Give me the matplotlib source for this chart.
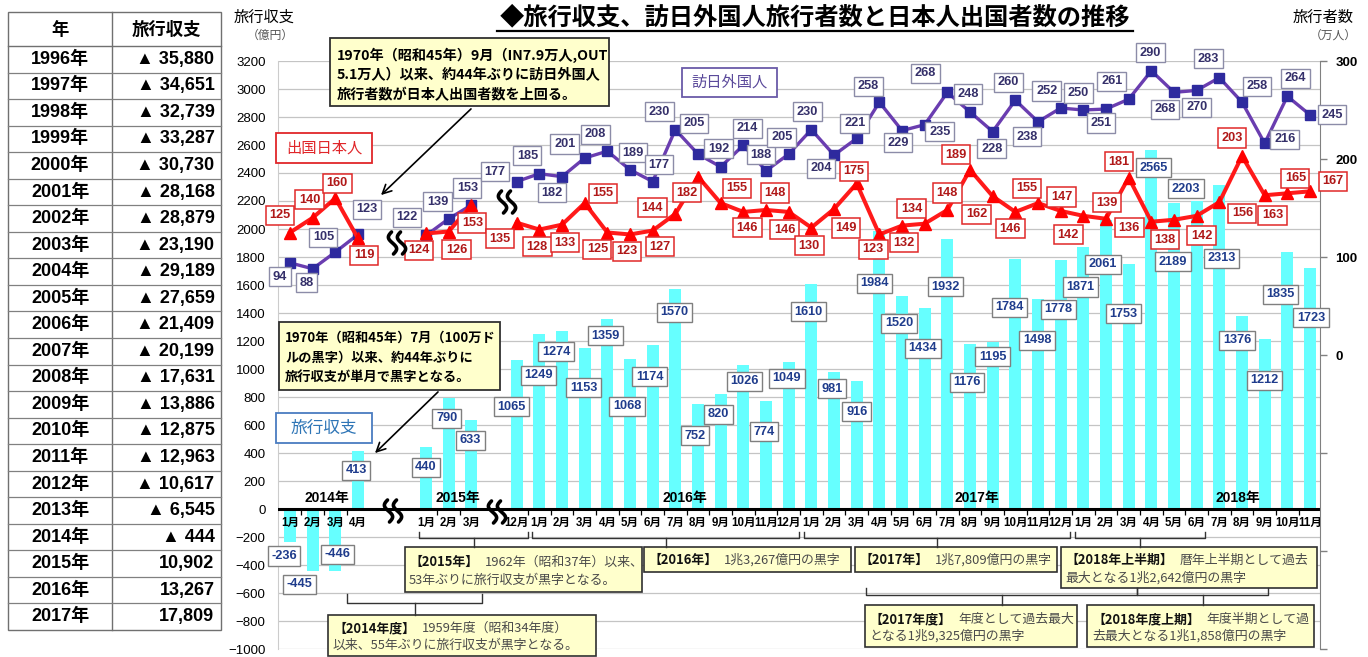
import matplotlib
matplotlib.use('Agg')
import matplotlib.pyplot as plt
import numpy as np
from matplotlib.patches import Rectangle, FancyArrowPatch

JP = ['Noto Sans CJK JP', 'DejaVu Sans']
LAT = ['Liberation Sans', 'Noto Sans CJK JP', 'DejaVu Sans']
plt.rcParams['font.family'] = LAT

# ---------------- data ----------------
table_years = ['1996年', '1997年', '1998年', '1999年', '2000年', '2001年', '2002年',
               '2003年', '2004年', '2005年', '2006年', '2007年', '2008年', '2009年',
               '2010年', '2011年', '2012年', '2013年', '2014年', '2015年', '2016年', '2017年']
table_balance = [-35880, -34651, -32739, -33287, -30730, -28168, -28879, -23190, -29189,
                 -27659, -21409, -20199, -17631, -13886, -12875, -12963, -10617, -6545,
                 -444, 10902, 13267, 17809]

month_labels = ['1月', '2月', '3月', '4月',
                '1月', '2月', '3月',
                '12月',
                '1月', '2月', '3月', '4月', '5月', '6月', '7月', '8月', '9月', '10月', '11月', '12月',
                '1月', '2月', '3月', '4月', '5月', '6月', '7月', '8月', '9月', '10月', '11月', '12月',
                '1月', '2月', '3月', '4月', '5月', '6月', '7月', '8月', '9月', '10月', '11月']
year_labels = ['2014年', '2015年', '2016年', '2017年', '2018年']

balance = [-236, -445, -446, 413,
           440, 790, 633,
           1065,
           1249, 1274, 1153, 1359, 1068, 1174, 1570, 752, 820, 1026, 774, 1049,
           1610, 981, 916, 1984, 1520, 1434, 1932, 1176, 1195, 1784, 1498, 1778,
           1871, 2061, 1753, 2565, 2189, 2203, 2313, 1376, 1212, 1835, 1723]
visitors = [94, 88, 105, 123,
            122, 139, 153,
            177,
            185, 182, 201, 208, 189, 177, 230, 205, 192, 214, 188, 205,
            230, 204, 221, 258, 229, 235, 268, 248, 228, 260, 238, 252,
            250, 251, 261, 290, 268, 270, 283, 258, 216, 264, 245]
outbound = [125, 140, 160, 119,
            124, 126, 153,
            135,
            128, 133, 155, 125, 123, 127, 144, 182, 155, 146, 148, 146,
            130, 149, 175, 123, 132, 134, 148, 189, 162, 146, 155, 147,
            142, 139, 181, 136, 138, 142, 156, 203, 163, 165, 167]

# ---------------- layout ----------------
segments = [(0, 4), (6, 3), (10, 1), (11, 12), (23, 12), (35, 11)]   # (start slot, n months)
x = np.concatenate([np.arange(s, s + n) for s, n in segments]).astype(float)
line_runs = [(0, 4), (4, 7), (7, 43)]
year_label_x = [1.63, 7.4, 17.4, 30.3, 41.8]

vis_off = [(-10, -14), (-6, -14), (-12, 15), (9, 25),
           (-19, 18), (-11, 17), (-4, 17),
           (-22, 10),
           (-12, 18), (-10, -16), (-20, 14), (-12, 17), (3, 17), (6, 17), (-16, 18), (-4, 31),
           (-2, 18), (4, 17), (-5, 16), (-7, 17),
           (-4, 18), (-13, -13), (-2, 15), (-11, 16), (-4, -12), (15, -7), (-22, 19), (-2, 18),
           (-1, -17), (-7, 18), (-11, -15), (-14, 17),
           (-5, 17), (-5, -14), (-17, 18), (-1, 18), (-9, -17), (0, -17), (-11, 19), (15, 16),
           (20, 4), (8, 18), (22, 0)]
out_off = [(-10, 17), (-3, 18), (2, 15), (6, -17),
           (-7, -17), (8, -18), (1, -18),
           (-17, -16),
           (-2, -17), (3, -18), (18, 10), (-10, -17), (-3, -17), (7, -16), (-23, 6), (-11, -16),
           (16, 15), (4, -16), (9, 17), (-4, -18),
           (-2, -18), (12, -19), (-3, 12), (-6, -15), (2, -17), (-13, 15), (0, 17), (-14, 15),
           (-16, -18), (-5, -17), (-11, 15), (1, 14),
           (-15, -19), (1, 16), (-10, 16), (-22, -6), (-9, -20), (5, -20), (23, -11), (-10, 18),
           (8, -20), (8, 15), (23, 10)]
bar_off = [(-6, -14), (-13, -13), (2, 17), (-2, -19),
           (0, -20), (-2, -20), (-1, -20),
           (-5, -47),
           (-1, -41), (-6, -21), (-1, -40), (-2, -17), (-3, -47), (-3, -32), (-1, -23), (-3, -32),
           (-2, -20), (1, -16), (-2, -31), (-2, -16),
           (-3, -28), (-2, -17), (0, -31), (-5, -52), (-3, -27), (-2, -40), (-2, -48), (-3, -38),
           (0, -15), (-6, -48), (-1, -41), (-2, -49),
           (-3, -40), (-3, -44), (-5, -50), (2, -18), (-1, -59), (-11, 12), (2, -73), (-5, -24),
           (0, -41), (-7, -42), (1, -50)]

W, H = 1368, 657
fig = plt.figure(figsize=(W / 100, H / 100), dpi=100)
fig.patch.set_facecolor('white')

L, R, T, B = 278, 1320, 61, 649
ax = fig.add_axes([L / W, (H - B) / H, (R - L) / W, (B - T) / H])
ax.set_xlim(-0.53, 45.44)
ax.set_ylim(-1000, 3200)
ax.set_yticks(range(-1000, 3201, 200))
ax.grid(axis='y', color='#C4C4C4', lw=0.9)
ax.set_axisbelow(True)
ax.set_xticks([])
ax.tick_params(axis='y', length=0, pad=9, labelsize=9.5)
for s in ['top', 'bottom', 'right']:
    ax.spines[s].set_visible(False)
ax.spines['left'].set_color('#CCCCCC')

ax2 = ax.twinx()
ax2.set_ylim(-300, 300)
ticks2 = [-300, -200, -100, 0, 100, 200, 300]
ax2.set_yticks(ticks2)
ax2.set_yticklabels([str(t) if t >= 0 else '' for t in ticks2], fontweight='bold')
ax2.tick_params(axis='y', length=5, width=1, color='#808080', pad=6, labelsize=9.5)
for s in ['top', 'bottom', 'left']:
    ax2.spines[s].set_visible(False)
ax2.spines['right'].set_color('#808080')

# bars
ax.bar(x, balance, width=0.52, color='#66FFFF', zorder=2)
ax.axhline(0, color='black', lw=2.2, zorder=3)

# small ticks between contiguous months
bounds = [x[i] + 0.5 for i in range(len(x) - 1) if x[i + 1] - x[i] == 1]
ax.vlines(bounds, -40, 0, color='black', lw=0.9, zorder=3)

for xi, lab in zip(x, month_labels):
    ax.annotate(lab, (xi, 0), xytext=(0, -14), textcoords='offset pixels', ha='center',
                va='center', fontsize=8.3, fontweight='bold', zorder=4)
for xi, lab in zip(year_label_x, year_labels):
    ax.annotate(lab, (xi, 0), xytext=(0, 11), textcoords='offset pixels', ha='center',
                va='center', fontsize=10, fontweight='bold', zorder=4)

for (a, b) in line_runs:
    ax2.plot(x[a:b], visitors[a:b], color='#6A3DB0', lw=2.4, marker='s', ms=6.5,
             mfc='#2E2A9E', mec='#2E2A9E', zorder=3, solid_joinstyle='miter')
    ax2.plot(x[a:b], outbound[a:b], color='#FF1A1A', lw=2.9, marker='^', ms=8,
             mfc='#FF0000', mec='#FF0000', zorder=3)

lab_kw = dict(textcoords='offset pixels', ha='center', va='center', fontsize=9.2,
              fontweight='bold', zorder=6)
for xi, v, (dx, dy) in zip(x, visitors, vis_off):
    ax2.annotate(str(v), (xi, v), xytext=(dx, dy), color='#35306A',
                 bbox=dict(boxstyle='square,pad=0.28', fc='white', ec='#8C8CA8', lw=1),
                 annotation_clip=False, **lab_kw)
for xi, v, (dx, dy) in zip(x, outbound, out_off):
    ax2.annotate(str(v), (xi, v), xytext=(dx, dy), color='#B01818',
                 bbox=dict(boxstyle='square,pad=0.28', fc='white', ec='#E02828', lw=1.1),
                 annotation_clip=False, **lab_kw)
for xi, v, (dx, dy) in zip(x, balance, bar_off):
    ax2.annotate(str(v), (xi, (v - 1100) / 7), xytext=(dx, dy), color='#1F3C8C',
                 bbox=dict(boxstyle='square,pad=0.28', fc='white', ec='#7F7F7F', lw=1),
                 annotation_clip=False, **lab_kw)

# ---------------- overlay (pixel coordinates) ----------------
ov = fig.add_axes([0, 0, 1, 1], zorder=10)
ov.set_xlim(0, W)
ov.set_ylim(H, 0)
ov.axis('off')

# table
tx0, tx1, tdiv, ty0, thead, ty1 = 8, 220.5, 112, 12, 46, 630
ov.add_patch(Rectangle((tx0, ty0), tx1 - tx0, ty1 - ty0, fc='white', ec='#707070', lw=1))
ov.plot([tdiv, tdiv], [ty0, ty1], color='#707070', lw=1)
rowh = (ty1 - thead) / len(table_years)
ov.plot([tx0, tx1], [thead, thead], color='#707070', lw=1)
for k in range(1, len(table_years)):
    yy = thead + k * rowh
    ov.plot([tx0, tx1], [yy, yy], color='#808080', lw=0.9)
ov.text((tx0 + tdiv) / 2, (ty0 + thead) / 2 + 1, '年', ha='center', va='center',
        fontsize=12.5, fontweight='bold', family=JP)
ov.text((tdiv + tx1) / 2, (ty0 + thead) / 2 + 1, '旅行収支', ha='center', va='center',
        fontsize=12.5, fontweight='bold', family=JP)
for k, (yr, val) in enumerate(zip(table_years, table_balance)):
    yc = thead + (k + 0.5) * rowh
    ov.text((tx0 + tdiv) / 2, yc, yr, ha='center', va='center', fontsize=13, fontweight='bold')
    s = '▲ {:,}'.format(-val) if val < 0 else '{:,}'.format(val)
    ov.text(tx1 - 6, yc, s, ha='right', va='center', fontsize=13, fontweight='bold')

# title
ov.text(815, 17, '◆旅行収支、訪日外国人旅行者数と日本人出国者数の推移', ha='center', va='center',
        fontsize=17.5, fontweight='bold', family=JP)
ov.plot([497, 1133], [31, 31], color='black', lw=1.6)

# axis titles
ov.text(264, 17, '旅行収支', ha='center', va='center', fontsize=11, family=JP)
ov.text(270, 35, '（億円）', ha='center', va='center', fontsize=8.5, color='#555555', family=JP)
ov.text(1323, 17, '旅行者数', ha='center', va='center', fontsize=11, family=JP)
ov.text(1333, 35, '（万人）', ha='center', va='center', fontsize=8.5, color='#555555', family=JP)

# series name boxes
def name_box(x0, y0, x1, y1, txt, col, ecol, fs):
    ov.add_patch(Rectangle((x0, y0), x1 - x0, y1 - y0, fc='white', ec=ecol, lw=1.3))
    ov.text((x0 + x1) / 2, (y0 + y1) / 2, txt, ha='center', va='center', color=col,
            fontsize=fs, family=JP)

name_box(276, 133, 372, 163, '出国日本人', '#E0262A', '#E0262A', 11)
name_box(682, 68, 777, 97, '訪日外国人', '#5B4A9B', '#6A5AA8', 11)
name_box(276, 413, 372, 443, '旅行収支', '#2E75B6', '#4A7CC0', 12)

# callouts
def callout(x0, y0, x1, y1, lines, tx, ty0, dy, fs):
    ov.add_patch(Rectangle((x0, y0), x1 - x0, y1 - y0, fc='#FFFFCC', ec='#303030', lw=1.3))
    for i, ln in enumerate(lines):
        ov.text(tx, ty0 + i * dy, ln, ha='left', va='center', fontsize=fs, family=JP,
                fontweight='bold')

callout(330, 38, 609, 106, ['1970年（昭和45年）9月（IN7.9万人,OUT',
                            '5.1万人）以来、約44年ぶりに訪日外国人',
                            '旅行者数が日本人出国者数を上回る。'], 337, 55, 20, 10.2)
callout(279, 322, 500, 390, ['1970年（昭和45年）7月（100万ド',
                             'ルの黒字）以来、約44年ぶりに',
                             '旅行収支が単月で黒字となる。'], 285, 338, 19.5, 9.5)
ov.add_patch(FancyArrowPatch((473, 107), (379, 197), arrowstyle='->', mutation_scale=16,
                             color='black', lw=1.2))
ov.add_patch(FancyArrowPatch((440, 390), (373, 455), arrowstyle='->', mutation_scale=16,
                             color='black', lw=1.2))

# bottom comment boxes
def note_box(x0, y0, x1, y1, head, rest1, line2, tx, ty1, ty2):
    ov.add_patch(Rectangle((x0, y0), x1 - x0, y1 - y0, fc='#FFFFCC', ec='#303030', lw=1.2))
    h = ov.text(tx, ty1, head, ha='left', va='center', fontsize=9.3, family=JP,
                fontweight='bold', color='#111111')
    ov.annotate(rest1, xy=(1, 0.5), xycoords=h, xytext=(5, 0), textcoords='offset points',
                ha='left', va='center', fontsize=9.3, family=JP, color='#4A4A4A')
    if line2:
        ov.text(tx, ty2, line2, ha='left', va='center', fontsize=9.3, family=JP, color='#4A4A4A')

note_box(405, 547, 642, 592, '【2015年】', '1962年（昭和37年）以来、',
         '53年ぶりに旅行収支が黒字となる。', 409, 562, 580)
note_box(644, 547, 851, 572, '【2016年】', '1兆3,267億円の黒字', None, 648, 560, 0)
note_box(855, 547, 1057, 572, '【2017年】', '1兆7,809億円の黒字', None, 859, 560, 0)
note_box(1061, 547, 1317, 588, '【2018年上半期】', '暦年上半期として過去',
         '最大となる1兆2,642億円の黒字', 1065, 560, 578)
note_box(328, 615, 596, 656, '【2014年度】', '1959年度（昭和34年度）',
         '以来、55年ぶりに旅行収支が黒字となる。', 333, 628, 645)
note_box(865, 605, 1077, 647, '【2017年度】', '年度として過去最大',
         'となる1兆9,325億円の黒字', 869, 619, 636)
note_box(1087, 605, 1314, 647, '【2018年度上期】', '年度半期として過',
         '去最大となる1兆1,858億円の黒字', 1092, 619, 636)

# brackets
def bracket(x0, x1, y, yh, ym):
    xm = (x0 + x1) / 2
    ov.plot([x0, x0, x1, x1], [yh, y, y, yh], color='#333333', lw=1)
    ov.plot([xm, xm], [y, ym], color='#333333', lw=1)

bracket(419, 528, 538, 532, 547)
bracket(532, 799, 538, 532, 547)
bracket(804, 1070, 538, 532, 547)
bracket(1075, 1205, 538, 532, 547)
bracket(347, 482, 603, 594, 615)
bracket(866, 1137, 595, 588, 605)
bracket(1137, 1268, 595, 588, 605)

# break symbols
def squiggle(cx, cy):
    t = np.linspace(0, 1, 40)
    for dx in (-4.5, 4.5):
        xs = cx + dx - 3.6 * np.sin(2 * np.pi * t) + 2.0 * (t - 0.5)
        ys = cy - 11 + 22 * t
        ov.plot(xs, ys, color='black', lw=2.6, solid_capstyle='round')

for cx, cy in [(393, 511), (497, 512), (397, 243), (507, 202)]:
    squiggle(cx, cy)

fig.savefig('out.png', dpi=100)
